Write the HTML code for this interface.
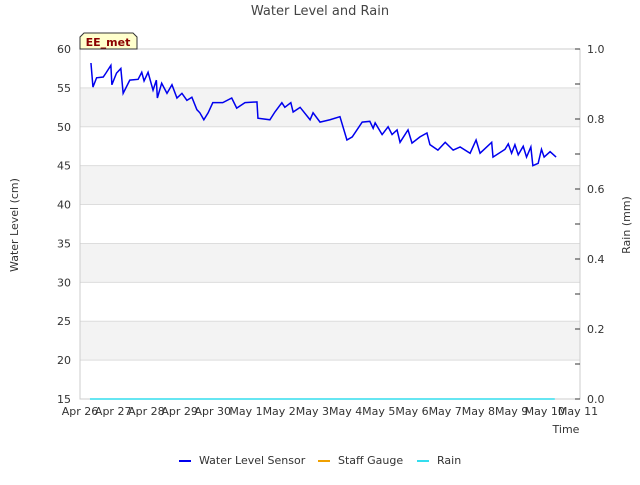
<!DOCTYPE html>
<html><head><meta charset="utf-8"><style>
body{margin:0;background:#fff;font-family:"Liberation Sans","DejaVu Sans",sans-serif}
</style></head><body>
<svg id="c" width="640" height="480" xmlns="http://www.w3.org/2000/svg" style="font-family:'DejaVu Sans','Liberation Sans',sans-serif">
<text x="320" y="15" text-anchor="middle" font-size="13" fill="#444">Water Level and Rain</text>
<g id="bands"></g><g id="grid"></g>
<rect x="80" y="49" width="500" height="350" fill="none" stroke="#ccc"/>
<g id="axes" font-size="11" fill="#333"></g>
<g id="series"></g>
<text transform="translate(18,225) rotate(-90)" text-anchor="middle" font-size="11" fill="#333">Water Level (cm)</text>
<text transform="translate(630,225) rotate(-90)" text-anchor="middle" font-size="11" fill="#333">Rain (mm)</text>
<text x="566" y="433" text-anchor="middle" font-size="11" fill="#333">Time</text>
<g>
<path d="M80,49 L80,37 L84,33 L133,33 L137,37 L137,49 Z" fill="#ffffcc" stroke="#333"/>
<text x="108" y="46" text-anchor="middle" font-size="11" font-weight="bold" fill="#8b0000">EE_met</text></g>
<g font-size="11" fill="#333">
<g><line x1="179" y1="461" x2="191" y2="461" stroke="#0000ee" stroke-width="2"/><text x="199" y="464">Water Level Sensor</text></g>
<g><line x1="318" y1="461" x2="330" y2="461" stroke="#f0a000" stroke-width="2"/><text x="338" y="464">Staff Gauge</text></g>
<g><line x1="417" y1="461" x2="429" y2="461" stroke="#33ddee" stroke-width="2"/><text x="437" y="464">Rain</text></g>
</g>
</svg>
<script>
const wlDays=[0.33,0.39,0.5,0.7,0.78,0.93,0.96,1.1,1.23,1.3,1.5,1.75,1.86,1.93,2.05,2.2,2.3,2.33,2.46,2.62,2.77,2.92,3.07,3.22,3.37,3.52,3.61,3.73,3.86,4.0,4.3,4.57,4.72,4.97,5.33,5.36,5.72,5.87,6.08,6.17,6.35,6.42,6.63,6.93,7.02,7.23,7.53,7.83,8.04,8.2,8.5,8.73,8.83,8.89,9.1,9.28,9.4,9.55,9.64,9.88,10.0,10.24,10.45,10.54,10.78,11.0,11.24,11.45,11.75,11.93,12.05,12.4,12.44,12.8,12.9,13.0,13.1,13.2,13.35,13.45,13.58,13.64,13.8,13.9,13.98,14.16,14.34];
const wlValues=[58.2,55.1,56.3,56.4,56.9,57.9,55.4,56.9,57.5,54.3,56,56.1,57,55.9,57,54.7,56,53.7,55.6,54.3,55.4,53.7,54.3,53.4,53.8,52.2,51.8,50.9,51.8,53.1,53.1,53.7,52.4,53.1,53.2,51.1,50.9,51.9,53.1,52.5,53.1,51.9,52.5,50.9,51.8,50.6,50.9,51.3,48.3,48.7,50.6,50.7,49.8,50.5,49,50,49,49.6,48,49.6,47.9,48.7,49.2,47.7,47,48,47,47.4,46.6,48.3,46.6,48,46.1,47.1,47.8,46.6,47.7,46.4,47.5,46.1,47.4,45,45.3,47.1,46.1,46.8,46.1];
const rainDays=[0.3,14.3];
const rainValues=[0,0];
const xLabels=["Apr 26","Apr 27","Apr 28","Apr 29","Apr 30","May 1","May 2","May 3","May 4","May 5","May 6","May 7","May 8","May 9","May 10","May 11"];
const yTicks=[15,20,25,30,35,40,45,50,55,60];
const y2Ticks=[0,0.2,0.4,0.6,0.8,1.0];
const NS="http://www.w3.org/2000/svg";
const X=d=>80+d*33.2, Y=v=>399-(v-15)*350/45, Y2=v=>399-v*350;
function mk(p,t,a){const e=document.createElementNS(NS,t);for(const k in a)e.setAttribute(k,a[k]);document.getElementById(p).appendChild(e);return e;}
for(let v=50;v>15;v-=10){const r=mk('bands','rect',{x:80,y:Y(v+5),width:500,height:Y(v)-Y(v+5),fill:'#f3f3f3'});

}
yTicks.forEach(v=>{const l=mk('grid','line',{x1:80,x2:580,y1:Y(v),y2:Y(v),stroke:'#ddd'});


const t=mk('axes','text',{x:71,y:Y(v)+4,'text-anchor':'end'});t.textContent=v;

});
for(let i=0;i<=10;i++){const v=i/10;const l=mk('axes','line',{x1:575,x2:580,y1:Y2(v),y2:Y2(v),stroke:'#333'});

}
y2Ticks.forEach(v=>{const t=mk('axes','text',{x:587,y:Y2(v)+4});t.textContent=v.toFixed(1);

});
xLabels.forEach((s,i)=>{const t=mk('axes','text',{x:X(i),y:415,'text-anchor':'middle'});t.textContent=s;

});
const rp=mk('series','polyline',{points:rainDays.map((d,i)=>X(d)+','+Y2(rainValues[i])).join(' '),fill:'none',stroke:'#33ddee','stroke-width':1.5});


const wp=mk('series','polyline',{points:wlDays.map((d,i)=>X(d)+','+Y(wlValues[i])).join(' '),fill:'none',stroke:'#0000ee','stroke-width':1.5});


</script>
</body></html>
